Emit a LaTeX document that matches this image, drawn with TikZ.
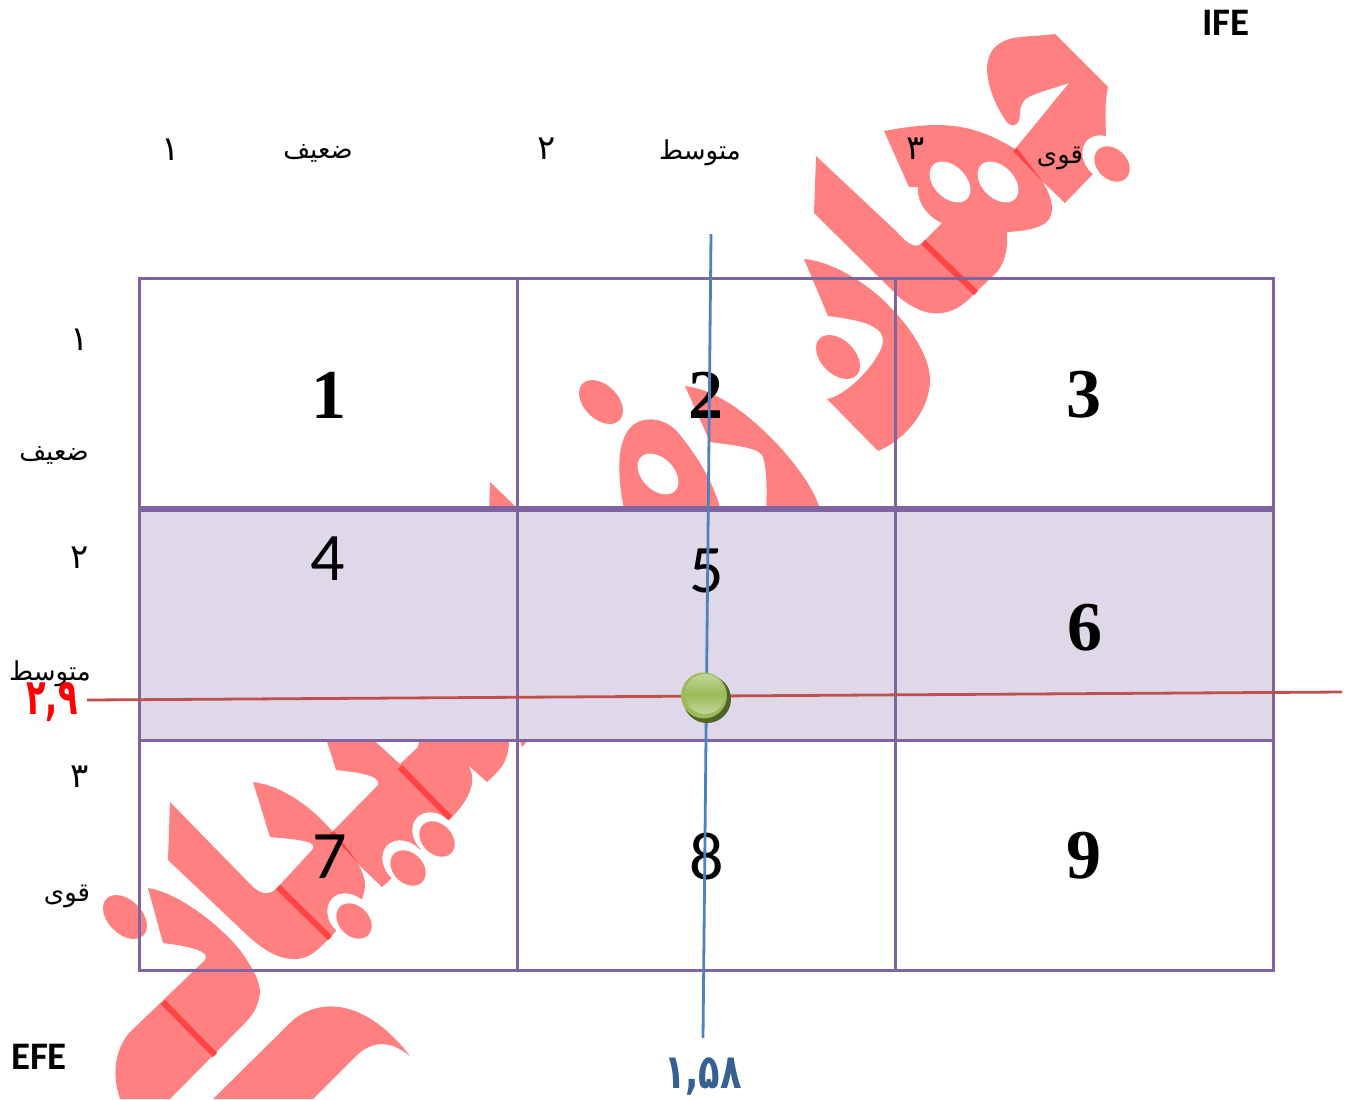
\documentclass[tikz,border=0pt]{standalone}
\usepackage{fontspec}
\usepackage{xcolor}
\usetikzlibrary{positioning}
\setmainfont{Liberation Serif}
\newfontfamily\arabicfont[Script=Arabic]{DejaVu Sans}
\newfontfamily\calfont{Carlito}
\TeXXeTstate=1
\newcommand{\fa}[1]{{\arabicfont\beginR #1\endR}}
\definecolor{wmcol}{HTML}{FF8080}
\definecolor{wmdark}{HTML}{FF4444}
\definecolor{gridcol}{HTML}{8064A2}
\definecolor{bandcol}{HTML}{DFD8E9}
\definecolor{vcol}{HTML}{4F81BD}
\definecolor{hcol}{HTML}{C0504D}
\definecolor{numblue}{HTML}{366092}
\definecolor{marblecol}{HTML}{9BBB59}
\definecolor{marblelight}{HTML}{C3D69B}
\definecolor{marbledark}{HTML}{4F6228}

\begin{document}
\begin{tikzpicture}[x=0.5pt, y=-0.5pt,
  wm/.style={fill=wmcol},
  wmstrip/.style={draw=wmdark, line width=3pt},
  big/.style={x radius=13pt, y radius=8.5pt, rotate=-45},
  small/.style={x radius=10pt, y radius=7.5pt, rotate=-45},
  ring/.style={x radius=12.5pt, y radius=10pt, rotate=-45},
  hole/.style={x radius=12pt, y radius=8pt, rotate=-45},
  cell/.style={draw=gridcol, line width=1.5pt, minimum width=189pt, minimum height=115pt, inner sep=0pt, outer sep=0pt},
  band/.style={cell, fill=bandcol, minimum height=116pt},
  snum/.style={inner sep=0pt, font=\fontsize{35}{35}\selectfont\bfseries},
  cnum/.style={inner sep=0pt, font=\fontsize{34}{34}\selectfont\calfont},
  lab/.style={inner sep=0pt, font=\fontsize{13}{15}\selectfont},
  dig/.style={inner sep=0pt, font=\fontsize{17}{17}\selectfont},
  axis/.style={inner sep=0pt, font=\fontsize{19.5}{20}\selectfont\calfont\bfseries},
  val/.style={inner sep=0pt, font=\fontsize{20}{20}\selectfont\arabicfont\bfseries},
  marble/.style={circle, inner sep=0pt, outer sep=0pt}]
\path[use as bounding box, fill=white] (0,0) rectangle (1348,1099);

\fill[wm] (1055,34) -- (1108,87) .. controls (1104,105) and (1106,125) .. (1106,140) -- (1094,173) -- (1065,203) -- (1043,182) -- (1015,149) -- (1069,83)
  .. controls (1055,88) and (1035,93) .. (1027,98) .. controls (1018,104) and (1021,115) .. (1019,120) .. controls (1017,127) and (1010,127) .. (1006,121)
  .. controls (995,105) and (987,85) .. (987,68) .. controls (988,50) and (997,42) .. (1013,38) .. controls (1025,36) and (1040,36) .. (1055,34) -- cycle;
\fill[wm] (884,131) .. controls (900,128) and (920,125) .. (937,125) .. controls (975,125) and (1000,140) .. (1015,149) -- (1043,182)
  .. controls (1050,195) and (1054,205) .. (1051,215) .. controls (1048,228) and (1025,231) .. (1007,232) .. controls (1008,250) and (1005,262) .. (997,272) -- (973,295)
  .. controls (950,320) and (925,318) .. (900,298) -- (814,213) -- (816,156) -- (897,232) .. controls (905,242) and (916,250) .. (922,243) -- (942,223)
  .. controls (930,218) and (917,205) .. (918,187) -- (909,187) -- cycle;
\fill[wm] (804,259) .. controls (840,262) and (880,295) .. (890,307) .. controls (915,332) and (930,360) .. (930,380) .. controls (930,410) and (905,440) .. (878,451) -- (827,399)
  .. controls (850,395) and (884,355) .. (883,340) .. controls (882,325) and (860,320) .. (828,316) -- cycle;
\fill[wm] (685,386) .. controls (715,390) and (745,410) .. (780,447) .. controls (800,470) and (815,490) .. (822,515) -- (766,515)
  .. controls (767,490) and (767,465) .. (762,455) .. controls (757,447) and (730,445) .. (710,442) -- cycle;
\fill[wm] (625,515) .. controls (618,480) and (615,445) .. (630,428) .. controls (640,416) and (665,415) .. (680,435) .. controls (700,460) and (715,485) .. (722,515) -- cycle;
\fill[wm] (490,482) -- (515,506) -- (515,515) -- (489,515) -- cycle;
\fill[wm] (519,738) -- (522,747) -- (530,738) -- cycle;
\fill[wm] (325,735) -- (336,770) .. controls (355,772) and (382,775) .. (378,785) -- (333,831) -- (359,865) -- (382,887) -- (392,878) -- (449,820)
  .. controls (470,800) and (478,780) .. (468,765) -- (487,782) .. controls (500,770) and (510,762) .. (509,735) -- (420,735) -- (418,747) -- (400,764) -- (368,735) -- cycle;
\fill[wm] (170,802) -- (253,887) .. controls (262,895) and (270,895) .. (277,888) -- (312,850) .. controls (318,842) and (305,840) .. (270,837) -- (253,782)
  .. controls (280,785) and (310,805) .. (333,832) .. controls (350,850) and (365,870) .. (365,885) .. controls (365,900) and (355,912) .. (337,930)
  .. controls (320,948) and (310,960) .. (293,959) .. controls (275,959) and (258,945) .. (247,935) -- (168,860) -- cycle;
\fill[wm] (148,888) .. controls (175,892) and (215,920) .. (240,950) .. controls (252,967) and (260,980) .. (260,993) .. controls (258,1005) and (255,1013) .. (245,1023) -- (170,1099) -- (120,1099)
  .. controls (110,1070) and (118,1045) .. (130,1032) -- (205,960) .. controls (210,952) and (195,947) .. (163,943) -- cycle;
\fill[wm] (213,1099) -- (293,1020) .. controls (320,998) and (365,998) .. (410,1056) .. controls (390,1040) and (372,1040) .. (355,1057) -- (313,1099) -- cycle;

\fill[white] (1105,158) circle [ring];
\fill[white] (350,916) circle [ring];
\fill[white] (435,835) circle [ring];
\fill[white] (405,863) circle [ring];
\fill[white] (950,182) circle [hole];
\fill[white] (998,182) circle [hole];
\fill[white] (658,474) circle [hole];
\fill[wm] (1112,164) circle [small];
\fill[wm] (354,921) circle [small];
\fill[wm] (437,839) circle [small];
\fill[wm] (408,868) circle [small];
\fill[wm] (125,917) circle [big];
\fill[wm] (838,357) circle [big];
\fill[wm] (601,402) circle [big];
\draw[wmstrip] (163,1002) -- (215,1055);
\draw[wmstrip] (278,887) -- (330,938);
\draw[wmstrip] (400,767) -- (450,818);
\draw[wmstrip] (923,242) -- (976,293);
\fill[wmdark] (1013,151) -- (1017,148) -- (1043,182) -- cycle;
\fill[wmdark] (330,833) -- (334,831) -- (359,864) -- cycle;

\node[cell] (cell1) at (328,393) {};
\node[cell] (cell2) at (706,393) {};
\node[cell] (cell3) at (1084,393) {};
\node[band] (cell4) at (328,624) {};
\node[band] (cell5) at (706,624) {};
\node[band] (cell6) at (1084,624) {};
\node[cell] (cell7) at (328,855) {};
\node[cell] (cell8) at (706,855) {};
\node[cell] (cell9) at (1084,855) {};
\draw[gridcol, line width=3pt] ([yshift=-0.5pt]cell4.north west) -- ([yshift=-0.5pt]cell6.north east);

\node[snum] (num1) at (329,395) {1};
\node[snum] (num2) at (706,395) {2};
\node[snum] (num3) at (1084,395) {3};
\node[cnum] (num4) at (328,559) {4};
\node[cnum] (num5) at (707,571) {5};
\node[snum] (num6) at (1085,628) {6};
\node[cnum] (num7) at (330,857) {7};
\node[cnum] (num8) at (707,857) {8};
\node[snum] (num9) at (1084,856) {9};

\node[dig] (top1) at (171,150) {\fa{۱}};
\node[lab] (topweak) at (318,153) {\fa{ضعیف}};
\node[dig] (top2) at (547,149) {\fa{۲}};
\node[lab] (topmid) at (700,153) {\fa{متوسط}};
\node[dig] (top3) at (916,149) {\fa{۳}};
\node[lab] (topstrong) at (1060,158) {\fa{قوی}};
\node[dig] (side1) at (80,340) {\fa{۱}};
\node[lab] (sideweak) at (54,455) {\fa{ضعیف}};
\node[dig] (side2) at (80,558) {\fa{۲}};
\node[lab] (sidemid) at (50,674) {\fa{متوسط}};
\node[dig] (side3) at (80,777) {\fa{۳}};
\node[lab] (sidestrong) at (67,896) {\fa{قوی}};
\node[axis] (ife) at (1226,23) {IFE};
\node[axis] (efe) at (39,1057) {EFE};

\coordinate (vtop) at (711,234);
\coordinate (vbot) at (703,1038);
\coordinate (hleft) at (87,700);
\coordinate (hright) at (1342,692);
\draw[hcol, line width=1.4pt] (hleft) -- (hright);
\draw[vcol, line width=1.4pt] (vtop) -- (vbot);
\node[val, text=red] (ifeval) at (52,702) {\scalebox{0.8}[1.25]{۲,۹}};
\node[val, text=numblue] (efeval) at (703,1076) {\scalebox{0.88}[1.2]{۱,۵۸}};

\node[marble, fill=marbledark, minimum size=24pt] (shadow) at (707,699) {};
\node[marble, fill=marblecol, minimum size=23pt] (marblerim) at (704,695.5) {};
\node[marble, top color=marblelight, bottom color=marblelight, middle color=marblecol, minimum size=20pt] (marbletop) at (705,694) {};
\end{tikzpicture}
\end{document}
